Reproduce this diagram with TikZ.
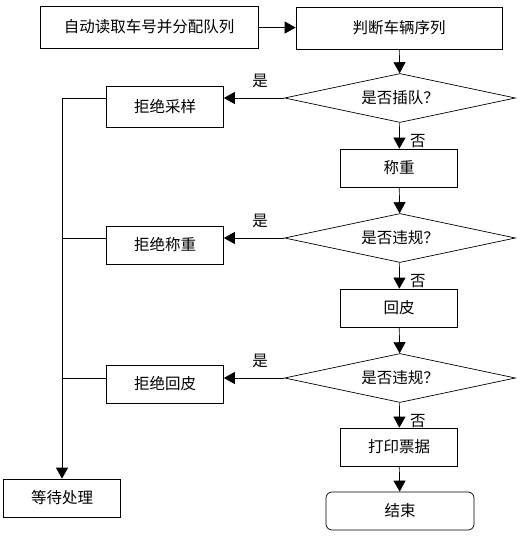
\documentclass[tikz,border=0pt]{standalone}
\usepackage{fontspec}
\setmainfont{Noto Sans CJK SC}
\usetikzlibrary{shapes.geometric, arrows.meta}

\begin{document}
\begin{tikzpicture}[x = 1pt, y = -1pt, > = {Triangle[length = 11pt, width = 12pt]},
	every node/.style = {font = \fontsize{15.5}{17}\selectfont},
	box/.style = {draw, line width = 0.7pt, inner sep = 0pt, minimum width = 117pt, minimum height = 38pt},
	decision/.style = {draw, diamond, line width = 0.7pt, inner sep = 0pt, aspect = 4.7, minimum width = 231pt, minimum height = 49pt},
	flow/.style = {line width = 0.7pt}]
	
	\useasboundingbox (0, 0) rectangle (520, 537);
	
	% Top row
	
	\node [box, minimum width = 218pt, minimum height = 42pt] (read) at (149, 27) {自动读取车号并分配队列};
	\node [box, minimum width = 206pt, minimum height = 42pt] (queue) at (399, 28) {判断车辆序列};
	
	% Right column: checks and steps
	
	\node [decision] (jump) at (400, 98) {是否插队？};
	\node [box] (weigh) at (399, 168) {称重};
	\node [decision] (rule1) at (400, 238) {是否违规？};
	\node [box] (tare) at (399, 308) {回皮};
	\node [decision] (rule2) at (400, 378) {是否违规？};
	\node [box] (print) at (399, 447) {打印票据};
	\node [box, minimum width = 148pt, rounded corners = 6pt] (stop) at (400, 511) {结束};
	
	% Left column: rejections
	
	\node [box, minimum height = 41pt] (nosample) at (165, 107) {拒绝采样};
	\node [box] (noweigh) at (165, 245) {拒绝称重};
	\node [box] (notare) at (165, 384) {拒绝回皮};
	\node [box] (wait) at (62, 498) {等待处理};
	
	% Main flow
	
	\draw [flow, ->] (read) -- (queue);
	\draw [flow, ->] (queue) -- (jump);
	\draw [flow, ->] (jump) -- node [pos = 0.72, right = 7pt] {否} (weigh);
	\draw [flow, ->] (weigh) -- (rule1);
	\draw [flow, ->] (rule1) -- node [pos = 0.72, right = 7pt] {否} (tare);
	\draw [flow, ->] (tare) -- (rule2);
	\draw [flow, ->] (rule2) -- node [pos = 0.72, right = 7pt] {否} (print);
	\draw [flow, ->] (print) -- (stop);
	
	% Yes branches
	
	\draw [flow, ->] (jump.west) -- node [pos = 0.4, above = 7pt] {是} (nosample.east |- jump.west);
	\draw [flow, ->] (rule1.west) -- node [pos = 0.4, above = 7pt] {是} (noweigh.east |- rule1.west);
	\draw [flow, ->] (rule2.west) -- node [pos = 0.4, above = 7pt] {是} (notare.east |- rule2.west);
	
	% Collect into waiting
	
	\draw [flow, ->] (nosample.west |- jump.west) -| (wait.north);
	\draw [flow] (noweigh.west |- rule1.west) -- (wait.north |- rule1.west);
	\draw [flow] (notare.west |- rule2.west) -- (wait.north |- rule2.west);
	
\end{tikzpicture}
\end{document}
